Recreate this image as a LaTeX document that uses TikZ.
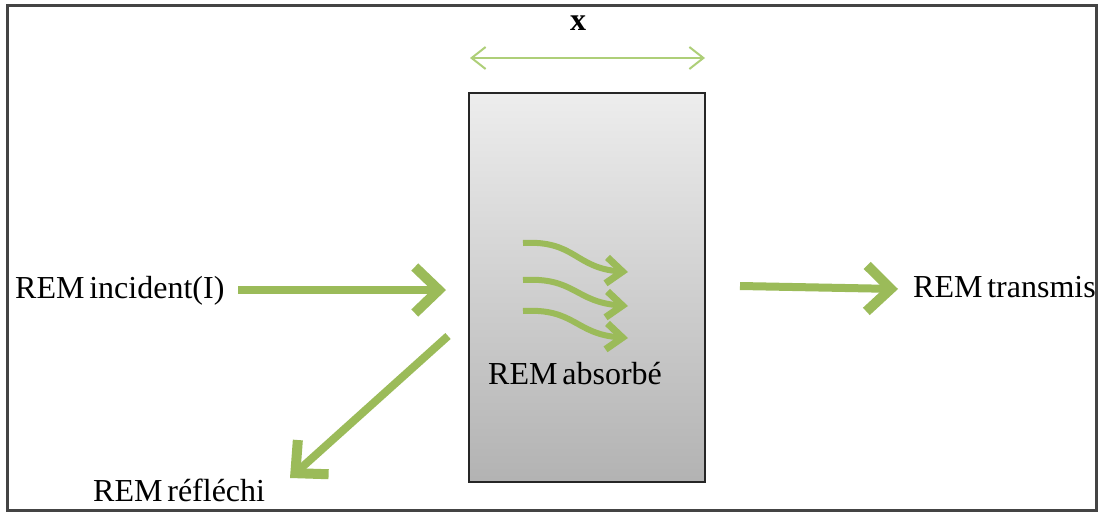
\documentclass[tikz,border=0pt]{standalone}
\usepackage{fontspec}
\setmainfont{Liberation Serif}[WordSpace=0.6]
\usetikzlibrary{arrows.meta}
\definecolor{ogreen}{HTML}{9BBB59}
\definecolor{lgreen}{HTML}{AECF78}
\definecolor{frame}{HTML}{444444}
\tikzset{
  lbl/.style={font=\fontsize{32}{38}\selectfont, inner sep=0pt, anchor=base west},
  bigarrow/.style={draw=ogreen, line width=8pt, -{Straight Barb[length=24pt,width=46pt,line width=10pt]}},
  wavearrow/.style={draw=ogreen, line width=6pt, -{Straight Barb[length=16pt,width=26pt,line width=7pt]}},
  dimarrow/.style={draw=lgreen, line width=2pt, {Straight Barb[length=14pt,width=22pt]}-{Straight Barb[length=14pt,width=22pt]}}
}
\begin{document}
\begin{tikzpicture}[x=1pt,y=-1pt]
\useasboundingbox (0,0) rectangle (1098,512);
\fill[white] (0,0) rectangle (1098,512);
% outer frame
\draw[frame, line width=3pt] (7,5) rectangle (1096,510);
% material block
\shade[top color=black!7, bottom color=black!30] (469,93) rectangle (705,482);
\node[draw=black!85, line width=2pt, minimum width=236pt, minimum height=389pt, inner sep=0pt] (block) at (587,287.5) {};
% dimension
\coordinate (dl) at (470,58);
\coordinate (dr) at (705,58);
\draw[dimarrow] (dl) -- (dr);
\node[font=\fontsize{32}{38}\selectfont\bfseries, inner sep=0pt, anchor=base] (xlab) at (578,30) {x};
% labels
\node[lbl] (inc) at (15,298) {REM incident(I)};
\node[lbl] (tra) at (913,297) {REM transmis};
\node[lbl] (ref) at (93,501) {REM réfléchi};
\node[lbl] (abs) at (488,384) {REM absorbé};
% coordinates
\coordinate (i1) at (238,290);
\coordinate (i2) at (446,290);
\coordinate (t1) at (740,286);
\coordinate (t2) at (898,289);
\coordinate (r1) at (448,336);
\coordinate (r2) at (290,478);
\draw[bigarrow] (i1) -- (i2);
\draw[bigarrow] (t1) -- (t2);
\draw[bigarrow] (r1) -- (r2);
% absorbed wavy arrows
\coordinate (w1a) at (523,243); \coordinate (w1b) at (628,272);
\coordinate (w2a) at (523,280); \coordinate (w2b) at (628,306);
\coordinate (w3a) at (523,311); \coordinate (w3b) at (628,338);
\draw[wavearrow] (w1a) .. controls (575,240) and (575,268) .. (w1b);
\draw[wavearrow] (w2a) .. controls (575,277) and (575,302) .. (w2b);
\draw[wavearrow] (w3a) .. controls (575,308) and (575,334) .. (w3b);
\end{tikzpicture}
\end{document}
